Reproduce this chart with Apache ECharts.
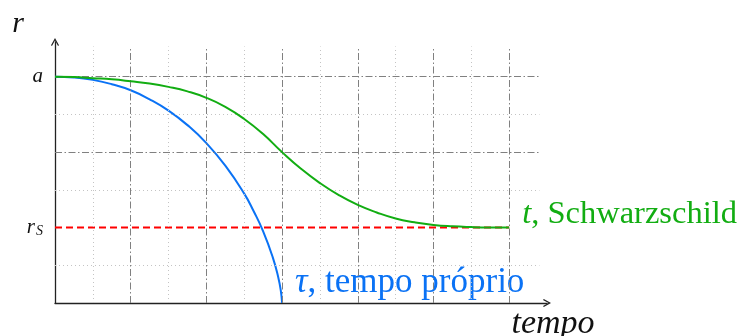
<!DOCTYPE html>
<html>
<head>
<meta charset="utf-8">
<script src="https://cdn.jsdelivr.net/npm/echarts@6/dist/echarts.min.js"></script>
<style>
  html, body { margin: 0; padding: 0; background: #fff; }
  #chart { width: 741px; height: 336px; }
</style>
</head>
<body>
<div id="chart"></div>
<script>
// Free fall towards a black hole: radius vs. time
const properTimeX = [0, 0.25, 0.5, 0.75, 1, 1.25, 1.5, 1.75, 2, 2.25, 2.5, 2.625, 2.75, 2.875, 2.95, 2.985, 3];
const properTimeR = [3, 2.99, 2.958, 2.9, 2.82, 2.7, 2.55, 2.358, 2.12, 1.82, 1.45, 1.216, 0.95, 0.612, 0.339, 0.151, 0];

const schwarzX = [0, 0.25, 0.5, 0.75, 1, 1.25, 1.5, 1.75, 2, 2.25, 2.5, 2.75, 3, 3.25, 3.5, 3.75, 4, 4.25, 4.5, 4.75, 5, 5.25, 5.5, 5.75, 6];
const schwarzR = [3, 2.995, 2.98, 2.965, 2.94, 2.91, 2.865, 2.805, 2.72, 2.6, 2.44, 2.24, 2.0, 1.78, 1.59, 1.43, 1.3, 1.2, 1.12, 1.07, 1.035, 1.016, 1.006, 1.001, 1.0];

const horizonR = 1;       // r_S
const horizonEndX = 6;

// grid positions
const majorX = [1, 2, 3, 4, 5, 6];
const minorX = [0.5, 1.5, 2.5, 3.5, 4.5, 5.5];
const majorY = [2, 3];
const minorY = [0.5, 1.5, 2.5];
const gridTopR = 3.4;
const gridRightX = 6.4;

const yTickValues = [1, 3];
const yTickText = { 1: '{i|r}{s|S}', 3: '{i|a}' };

const serif = 'Liberation Serif';
const zip = (xs, ys) => xs.map((x, i) => [x, ys[i]]);

const vLines = (xs) => xs.map(x => [{ coord: [x, 0] }, { coord: [x, gridTopR] }]);
const hLines = (ys) => ys.map(y => [{ coord: [0, y] }, { coord: [gridRightX, y] }]);

const chevron = 'path://M5,0 L10,9 L8.8,10 L5,3.2 L1.2,10 L0,9 Z';

const chart = echarts.init(document.getElementById('chart'), null, { renderer: 'canvas' });
chart.setOption({
  animation: false,
  backgroundColor: '#ffffff',
  grid: { left: 55, right: 194, top: 42, bottom: 33, containLabel: false, outerBoundsMode: 'none' },
  xAxis: {
    type: 'value', min: 0, max: 6.5,
    name: 'tempo', nameLocation: 'end', nameGap: 4,
    nameTextStyle: { fontFamily: serif, fontStyle: 'italic', fontSize: 34, color: '#111',
      align: 'center', verticalAlign: 'top', padding: [4, 0, 0, 4] },
    axisLine: { onZero: false, symbol: ['none', chevron], symbolSize: [10, 8],
      lineStyle: { color: '#222', width: 1.3 } },
    axisTick: { show: false }, axisLabel: { show: false }, splitLine: { show: false }
  },
  yAxis: {
    type: 'value', min: 0, max: 3.46,
    name: 'r', nameLocation: 'end', nameGap: 3,
    nameTextStyle: { fontFamily: serif, fontStyle: 'italic', fontSize: 30, color: '#111',
      align: 'right', padding: [0, 31, 0, 0] },
    axisLine: { onZero: false, symbol: ['none', chevron], symbolSize: [10, 8],
      lineStyle: { color: '#222', width: 1.3 } },
    axisTick: { show: false },
    axisLabel: {
      customValues: yTickValues, margin: 12,
      formatter: v => yTickText[v] || '',
      rich: {
        i: { fontFamily: serif, fontStyle: 'italic', fontSize: 21, color: '#111' },
        s: { fontFamily: serif, fontStyle: 'italic', fontSize: 14, color: '#111', padding: [8, 0, 0, 1] }
      }
    },
    splitLine: { show: false }
  },
  series: [
    {
      type: 'line', data: [], z: 1, silent: true,
      markLine: {
        silent: true, symbol: ['none', 'none'], label: { show: false },
        lineStyle: { color: '#c4c4c4', width: 1, type: [1, 3] },
        data: vLines(minorX).concat(hLines(minorY))
      }
    },
    {
      type: 'line', data: [], z: 2, silent: true,
      markLine: {
        silent: true, symbol: ['none', 'none'], label: { show: false },
        lineStyle: { color: '#808080', width: 1, type: [7, 2.5, 1.5, 2.5] },
        data: vLines(majorX).concat(hLines(majorY))
      }
    },
    {
      name: 'horizon', type: 'line', z: 3, showSymbol: false, silent: true,
      data: [[0, horizonR], [horizonEndX, horizonR]],
      lineStyle: { color: '#ff0000', width: 2, type: [7, 4] }
    },
    {
      name: 'tau', type: 'line', z: 4, showSymbol: false, smooth: 0.5, silent: true,
      data: zip(properTimeX, properTimeR),
      lineStyle: { color: '#0a72f5', width: 2 },
      endLabel: {
        show: true, offset: [5, -20],
        formatter: '{g|τ}, tempo próprio',
        fontFamily: serif, fontSize: 35, color: '#0a72f5',
        rich: { g: { fontFamily: serif, fontStyle: 'italic', fontSize: 35, color: '#0a72f5' } }
      }
    },
    {
      name: 't', type: 'line', z: 5, showSymbol: false, smooth: 0.5, silent: true,
      data: zip(schwarzX, schwarzR),
      lineStyle: { color: '#12ad12', width: 2 },
      endLabel: {
        show: true, offset: [5, -13],
        formatter: '{i|t}, Schwarzschild',
        fontFamily: serif, fontSize: 32.5, color: '#12ad12',
        rich: { i: { fontFamily: serif, fontStyle: 'italic', fontSize: 32.5, color: '#12ad12' } }
      }
    }
  ]
});
</script>
</body>
</html>
